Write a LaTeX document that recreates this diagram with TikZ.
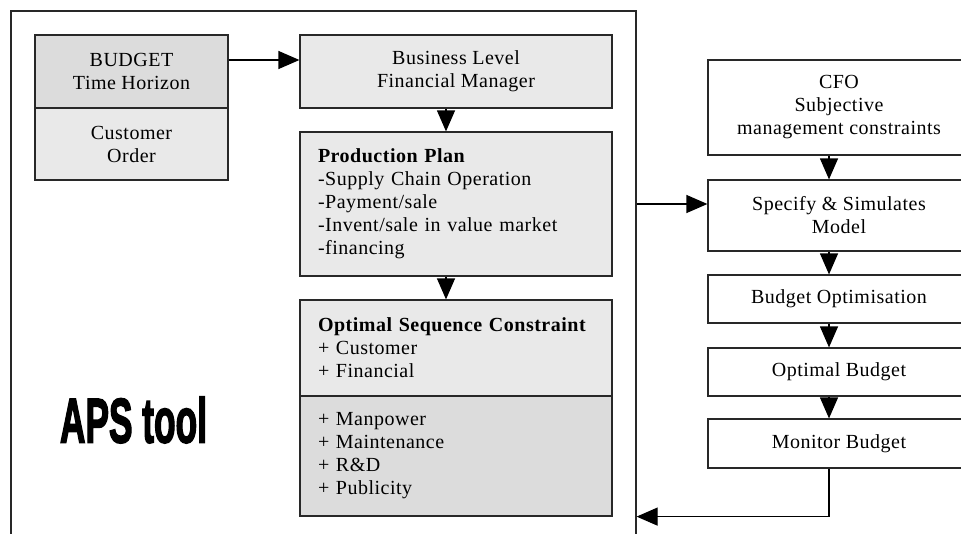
\documentclass[tikz,border=0pt]{standalone}
\usepackage{fontspec}
\setmainfont{Liberation Serif}[LetterSpace=2.5]
\newfontfamily\apsfont{Liberation Sans}[BoldFeatures={FakeBold=3}]
\usepackage{graphicx}
\usetikzlibrary{arrows.meta, positioning}
\definecolor{boxlight}{RGB}{233,233,233}
\definecolor{boxdark}{RGB}{220,220,220}
\definecolor{edge}{RGB}{40,40,40}

\begin{document}
\begin{tikzpicture}[x=1pt, y=-1pt,
  blk/.style={draw=edge, line width=1.2pt, inner sep=0pt, align=center, font=\fontsize{20}{23}\selectfont},
  lst/.style={blk, align=left, text width=276pt, minimum width=312pt},
  link/.style={draw=black, line width=1.2pt, -{Triangle[length=21pt, width=18pt]}},
]
  \useasboundingbox (0,0) rectangle (961,533);
  \clip (0,0) rectangle (961,533);

  \node[draw=edge, line width=1.2pt, inner sep=0pt, minimum width=625pt, minimum height=560pt] (aps) at (323.5,291) {};
  \node[inner sep=0pt, font=\apsfont\bfseries\fontsize{63}{63}\selectfont] (apstool) at (133.5,420) {\scalebox{0.56}[1]{APS tool}};

  \node[blk, fill=boxdark, minimum width=193pt, minimum height=73pt] (budget) at (131.5,71.5) {BUDGET\\Time Horizon};
  \node[blk, fill=boxlight, minimum width=193pt, minimum height=72pt] (order) at (131.5,144) {Customer\\Order};
  \node[blk, fill=boxlight, minimum width=312pt, minimum height=73pt] (business) at (456,71.5) {Business Level\\Financial Manager};
  \node[lst, fill=boxlight, minimum height=144pt] (plan) at (456,204) {\textbf{Production Plan}\\-Supply Chain Operation\\-Payment/sale\\-Invent/sale in value market\\-financing};
  \node[lst, fill=boxlight, minimum height=96pt] (seqtop) at (456,348) {\textbf{Optimal Sequence Constraint}\\+ Customer\\+ Financial};
  \node[lst, fill=boxdark, minimum height=120pt] (seqbot) at (456,456) {+ Manpower\\+ Maintenance\\+ R\&D\\+ Publicity};

  \node[blk, minimum width=262pt, minimum height=95pt] (cfo) at (839,107.5) {CFO\\Subjective\\management constraints};
  \node[blk, minimum width=262pt, minimum height=71pt] (spec) at (839,215.5) {Specify \& Simulates\\Model};
  \node[blk, minimum width=262pt, minimum height=48pt] (opt) at (839,299) {Budget Optimisation};
  \node[blk, minimum width=262pt, minimum height=48pt] (optbudget) at (839,372) {Optimal Budget};
  \node[blk, minimum width=262pt, minimum height=49pt] (monitor) at (839,443.5) {Monitor Budget};

  \draw[link] ([yshift=11.5pt]budget.east) -- ([yshift=11.5pt]business.west);
  \draw[link] ([xshift=-10pt]business.south) -- ([xshift=-10pt]plan.north);
  \draw[link] ([xshift=-10pt]plan.south) -- ([xshift=-10pt]seqtop.north);
  \draw[link] (aps.east |- plan) -- (spec.west |- plan);
  \foreach \a/\b in {cfo/spec, spec/opt, opt/optbudget, optbudget/monitor}
    \draw[link] ([xshift=-10pt]\a.south) -- ([xshift=-10pt]\b.north);
  \draw[link] ([xshift=-10pt]monitor.south) |- (aps.east |- seqbot.south);
\end{tikzpicture}
\end{document}
